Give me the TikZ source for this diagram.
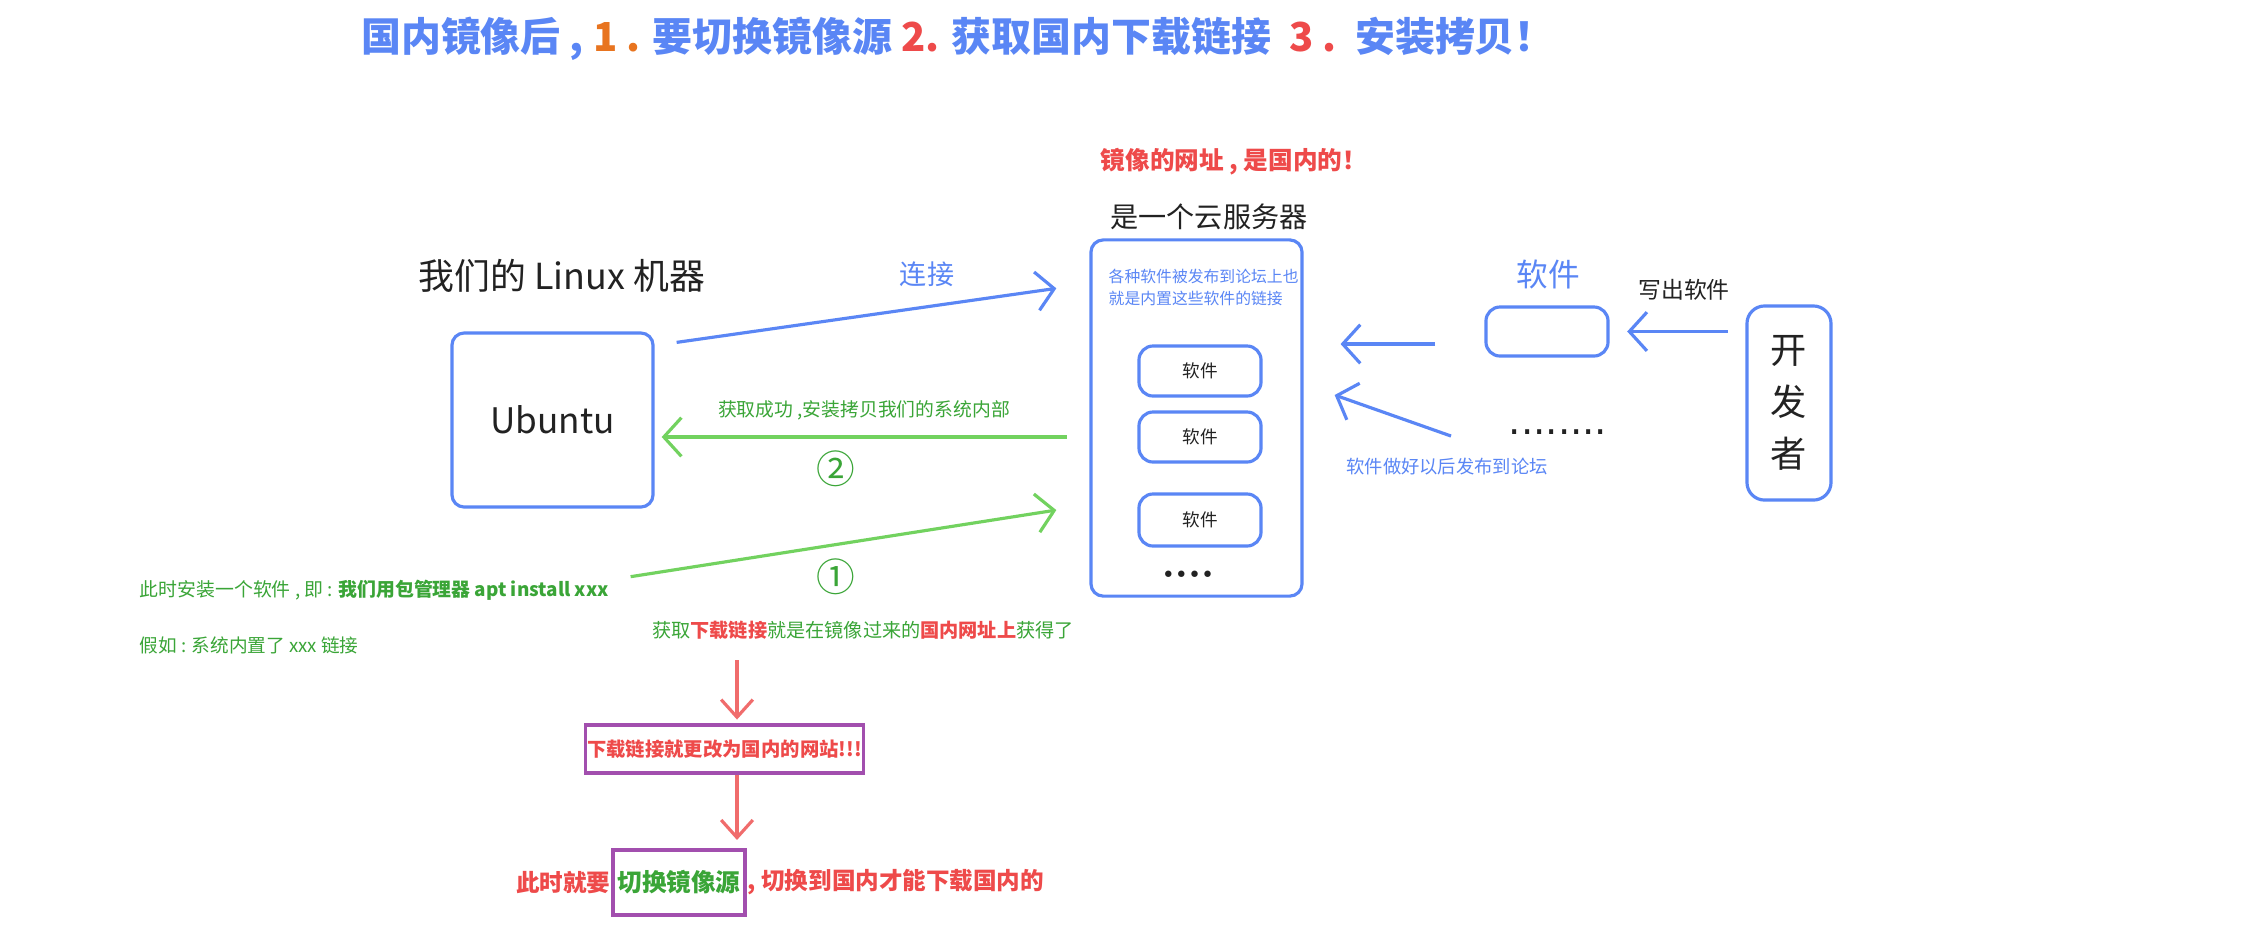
\documentclass[tikz,border=0pt]{standalone}
\usepackage{fontspec}
\setmainfont{Noto Sans CJK SC}
\newfontfamily\dotsfamily{DejaVu Sans}
\usepackage{xcolor}
\usepackage{tikz}
\usetikzlibrary{positioning,arrows.meta}
\definecolor{skyblue}{HTML}{5A86F5}
\definecolor{leafgreen}{HTML}{72D25F}
\definecolor{darkgreen}{HTML}{3AA537}
\definecolor{warnred}{HTML}{EE4A4A}
\definecolor{arrowred}{HTML}{F06C6C}
\definecolor{numorange}{HTML}{E8741F}
\definecolor{boxviolet}{HTML}{A24FAE}
\definecolor{ink}{HTML}{222222}

\begin{document}
\begin{tikzpicture}[x=0.01cm, y=-0.01cm,
  card/.style={draw=skyblue, line width=0.9pt, rounded corners=3.5pt, text=ink},
  tag/.style={draw=skyblue, line width=0.9pt, rounded corners=4pt,
              minimum width=1.22cm, minimum height=0.5cm,
              font=\fontsize{5}{6}\selectfont, text=ink},
  frame/.style={draw=boxviolet, line width=1.1pt, inner sep=0.5pt},
  bluearrow/.style={-{Straight Barb[length=5pt,width=11pt]}, line width=0.9pt, color=skyblue},
  greenarrow/.style={-{Straight Barb[length=5pt,width=11pt]}, line width=0.9pt, color=leafgreen},
  redarrow/.style={-{Straight Barb[length=5pt,width=9pt]}, line width=0.9pt, color=arrowred}
]
\useasboundingbox[fill=white] (0,0) rectangle (2241,938);

% title
\node[font=\fontsize{11.35}{13}\selectfont\bfseries, text=skyblue] (title) at (958,39)
  {国内镜像后 , \textcolor{numorange}{1 .} 要切换镜像源 \textcolor{warnred}{2.} 获取国内下载链接\ \ \textcolor{warnred}{3 .}\ \ 安装拷贝！};

% our machine
\node[card, minimum width=2.01cm, minimum height=1.74cm, font=\fontsize{10}{12}\selectfont] (ubuntu) at (552.5,420) {Ubuntu};
\node[font=\fontsize{10.2}{12}\selectfont, text=ink] (linuxlbl) at (562,276) {我们的 Linux 机器};

% mirror server
\node[card, minimum width=2.11cm, minimum height=3.56cm] (server) at (1196.5,418) {};
\node[font=\fontsize{8}{9}\selectfont, text=ink] (cloudlbl) at (1209,217) {是一个云服务器};
\node[font=\fontsize{7}{8}\selectfont\bfseries, text=warnred] (mirrorlbl) at (1234,162) {镜像的网址 , 是国内的！};
\node[anchor=north west, align=left, inner sep=0pt, font=\fontsize{4.5}{6.5}\selectfont, text=skyblue] (forumtxt) at (1108,268)
  {各种软件被发布到论坛上也\\就是内置这些软件的链接};
\node[tag] (sw1) at (1200,371) {软件};
\node[tag] (sw2) at (1200,437) {软件};
\node[tag, minimum height=0.52cm] (sw3) at (1200,520) {软件};
\node[font=\dotsfamily\fontsize{6.3}{7}\selectfont, text=ink] (more) at (1188,577) {••••};

% developer side
\node[card, minimum width=0.84cm, minimum height=1.94cm, rounded corners=5pt, align=center,
      font=\fontsize{10.3}{14.8}\selectfont] (devbox) at (1789,403) {开\\发\\者};
\node[card, minimum width=1.22cm, minimum height=0.49cm, rounded corners=4pt] (swbox) at (1547,331.5) {};
\node[font=\fontsize{9}{11}\selectfont, text=skyblue] (swlbl) at (1548,274) {软件};
\node[font=\fontsize{6.5}{8}\selectfont, text=ink] (writelbl) at (1684,290) {写出软件};
\node[font=\dotsfamily\fontsize{11}{13}\selectfont, text=ink] (dots8) at (1558,432) {........};
\node[font=\fontsize{5.2}{6}\selectfont, text=skyblue] (pubtxt) at (1447,467) {软件做好以后发布到论坛};

% labels on the connectors
\node[font=\fontsize{7.7}{9}\selectfont, text=skyblue] (connlbl) at (927,274) {连接};
\node[font=\fontsize{5.35}{6}\selectfont, text=darkgreen] (getlbl) at (864,410) {获取成功 ,安装拷贝我们的系统内部};
\node[font=\fontsize{11}{12}\selectfont, text=darkgreen] (step2) at (836,469) {②};
\node[font=\fontsize{11}{12}\selectfont, text=darkgreen] (step1) at (836,577) {①};

% notes at the bottom
\node[anchor=west, inner sep=0pt, font=\fontsize{5.37}{6}\selectfont, text=darkgreen] (installtxt) at (139,590)
  {此时安装一个软件 , 即 : {\bfseries 我们用包管理器 apt install xxx}};
\node[anchor=west, inner sep=0pt, font=\fontsize{5.3}{6}\selectfont, text=darkgreen] (linktxt) at (139,645)
  {假如 : 系统内置了 xxx 链接};
\node[font=\fontsize{5.45}{7}\selectfont, text=darkgreen] (mirrortxt) at (863,630)
  {获取\textcolor{warnred}{\bfseries 下载链接}就是在镜像过来的\textcolor{warnred}{\bfseries 国内网址上}获得了};
\node[frame, minimum width=2.77cm, minimum height=0.48cm, text=warnred, font=\fontsize{5.5}{7}\selectfont\bfseries] (changebox) at (724.5,749)
  {下载链接就更改为国内的网站!!!};
\node[frame, minimum width=1.32cm, minimum height=0.65cm, text=darkgreen, font=\fontsize{7}{8}\selectfont\bfseries] (switchbox) at (679,882.5)
  {切换镜像源};
\node[left=0pt of switchbox, inner sep=0pt, text=warnred, font=\fontsize{6.7}{8}\selectfont\bfseries] (switchpre) {此时就要};
\node[right=0pt of switchbox, inner sep=0pt, text=warnred, font=\fontsize{6.7}{8}\selectfont\bfseries] (switchpost) {, 切换到国内才能下载国内的};

% connectors
\coordinate (fwd) at ([yshift=-0.125cm]swbox.west);
\coordinate (pubstart) at (1451,436);
\coordinate (drop) at (737,0);

\draw[bluearrow] ([xshift=0.22cm,yshift=-0.11cm]ubuntu.north east) -- ([xshift=-0.33cm,yshift=-0.5cm]server.north west);
\draw[greenarrow, shorten <=6.5pt, shorten >=2pt] (server.west |- sw2) -- (ubuntu.east |- sw2);
\draw[greenarrow] ([xshift=-0.24cm,yshift=-0.68cm]ubuntu.south east) -- ([xshift=-0.33cm,yshift=-0.92cm]server.west);
\draw[bluearrow, shorten <=5pt, shorten >=5pt] (devbox.west |- swbox) -- (swbox.east);
\draw[bluearrow, shorten <=14pt, shorten >=10.5pt] (fwd) -- (fwd -| server.east);
\draw[bluearrow] (pubstart) -- ([xshift=0.31cm,yshift=0.23cm]server.east);
\draw[redarrow, shorten <=2.5pt, shorten >=1pt] (drop |- mirrortxt.south) -- (drop |- changebox.north);
\draw[redarrow, shorten >=2.3pt] (drop |- changebox.south) -- (drop |- switchbox.north);

\end{tikzpicture}
\end{document}
